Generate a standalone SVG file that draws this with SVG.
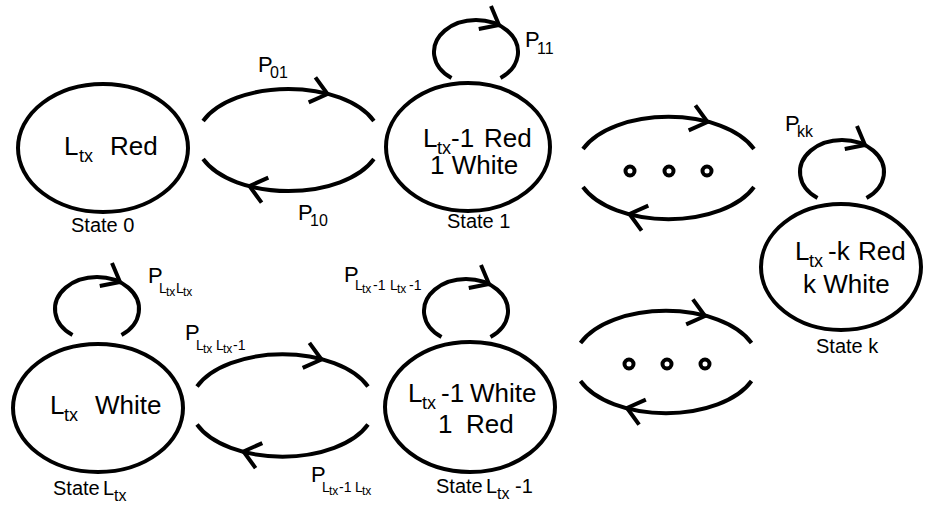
<svg xmlns="http://www.w3.org/2000/svg" xmlns:xlink="http://www.w3.org/1999/xlink" width="925" height="506" viewBox="0 0 925 506">
<style>
.st{fill:none;stroke:#000;stroke-width:4}
.dot{fill:none;stroke:#000;stroke-width:4}
text{font-family:"Liberation Sans",Arial,sans-serif;fill:#000}
.nt{font-size:26px}
.ns{font-size:18px}
.sl{font-size:20px}
.sls{font-size:16px}
.p{font-size:22px}
.ps{font-size:16px}
.pl{font-size:14px}
.pt{font-size:12px}
</style>
<defs>
<path id="chev" d="M-16,-13 L0,0 L-16,13" fill="none" stroke="#000" stroke-width="4"/>
</defs>
<rect width="925" height="506" fill="#fff"/>
<g id="connectors">
<path class="st" d="M203.1,121 A92,51 0 0 1 373.9,121"/>
<path class="st" d="M203.1,159 A92,51 0 0 0 373.9,159"/>
<use xlink:href="#chev" transform="translate(327.5,94) rotate(15)"/>
<use xlink:href="#chev" transform="translate(249.5,186) rotate(195)"/>
<path class="st" d="M583,149 A92,51 0 0 1 754,149"/>
<path class="st" d="M583,187 A92,51 0 0 0 754,187"/>
<use xlink:href="#chev" transform="translate(707.5,122) rotate(15)"/>
<use xlink:href="#chev" transform="translate(629.5,214) rotate(195)"/>
<path class="st" d="M197,386.5 A92,51 0 0 1 368,386.5"/>
<path class="st" d="M197,424.5 A92,51 0 0 0 368,424.5"/>
<use xlink:href="#chev" transform="translate(321.5,359.5) rotate(15)"/>
<use xlink:href="#chev" transform="translate(243.5,451.5) rotate(195)"/>
<path class="st" d="M580.5,343 A92,51 0 0 1 751.5,343"/>
<path class="st" d="M580.5,381 A92,51 0 0 0 751.5,381"/>
<use xlink:href="#chev" transform="translate(705,316) rotate(15)"/>
<use xlink:href="#chev" transform="translate(627,408) rotate(195)"/>
<path class="st" d="M451.5,78 A42,32 0 1 1 500.5,78"/>
<use xlink:href="#chev" transform="translate(499,25) rotate(28)"/>
<path class="st" d="M72.5,335 A42,32 0 1 1 121.5,335"/>
<use xlink:href="#chev" transform="translate(120,282) rotate(28)"/>
<path class="st" d="M441.5,337 A42,32 0 1 1 490.5,337"/>
<use xlink:href="#chev" transform="translate(489,284) rotate(28)"/>
<path class="st" d="M817.5,198 A42,32 0 1 1 866.5,198"/>
<use xlink:href="#chev" transform="translate(865,145) rotate(28)"/>
<circle class="dot" cx="630" cy="171" r="4.5"/>
<circle class="dot" cx="669" cy="171" r="4.5"/>
<circle class="dot" cx="707" cy="171" r="4.5"/>
<circle class="dot" cx="629" cy="364" r="4.5"/>
<circle class="dot" cx="667" cy="364" r="4.5"/>
<circle class="dot" cx="705" cy="364" r="4.5"/>
<text class="p" x="258" y="72">P<tspan class="ps" x="270" y="78">01</tspan></text>
<text class="p" x="298" y="220">P<tspan class="ps" x="310" y="226">10</tspan></text>
<text class="p" x="525" y="47">P<tspan class="ps" x="537" y="54">11</tspan></text>
<text class="p" x="785" y="131">P<tspan class="ps" x="797" y="137">kk</tspan></text>
<text class="p" x="148" y="283">P<tspan class="pl" x="159" y="293">L</tspan><tspan class="pt" x="166" y="296">tx</tspan><tspan class="pl" x="176" y="293">L</tspan><tspan class="pt" x="183" y="296">tx</tspan></text>
<text class="p" x="185" y="340">P<tspan class="pl" x="196" y="350">L</tspan><tspan class="pt" x="203" y="353">tx</tspan><tspan class="pl" x="216" y="350">L</tspan><tspan class="pt" x="223" y="353">tx</tspan><tspan class="pl" x="233" y="350">-1</tspan></text>
<text class="p" x="311" y="482">P<tspan class="pl" x="322" y="492">L</tspan><tspan class="pt" x="329" y="495">tx</tspan><tspan class="pl" x="339" y="492">-1</tspan><tspan class="pl" x="355" y="492">L</tspan><tspan class="pt" x="362" y="495">tx</tspan></text>
<text class="p" x="344" y="282">P<tspan class="pl" x="355" y="290">L</tspan><tspan class="pt" x="362" y="293">tx</tspan><tspan class="pl" x="373" y="290">-1</tspan><tspan class="pl" x="390" y="290">L</tspan><tspan class="pt" x="397" y="293">tx</tspan><tspan class="pl" x="409" y="290">-1</tspan></text>
</g>
<g id="state0">
<ellipse class="st" cx="103" cy="148" rx="85" ry="64"/>
<text class="nt" x="64" y="155">L<tspan class="ns" x="79" y="162">tx</tspan><tspan x="110" y="155">Red</tspan></text>
<text class="sl" x="71" y="232">State 0</text>
</g>
<g id="state1">
<ellipse class="st" cx="468" cy="147" rx="82" ry="64"/>
<text class="nt" x="423" y="147">L<tspan class="ns" x="437" y="154">tx</tspan><tspan x="451" y="147">-1</tspan><tspan x="484" y="147">Red</tspan></text>
<text class="nt" x="430" y="174">1 White</text>
<text class="sl" x="447" y="228">State 1</text>
</g>
<g id="statek">
<ellipse class="st" cx="841" cy="267" rx="80" ry="63"/>
<text class="nt" x="795" y="260">L<tspan class="ns" x="809" y="267">tx</tspan><tspan x="828" y="260">-k</tspan><tspan x="858" y="260">Red</tspan></text>
<text class="nt" x="803" y="293">k White</text>
<text class="sl" x="816" y="353">State k</text>
</g>
<g id="stateLtx">
<ellipse class="st" cx="98" cy="408" rx="85" ry="64"/>
<text class="nt" x="50" y="414">L<tspan class="ns" x="64" y="421">tx</tspan><tspan x="95" y="414">White</tspan></text>
<text class="sl" x="53" y="495">State<tspan x="103" y="495">L</tspan><tspan class="sls" x="114" y="501">tx</tspan></text>
</g>
<g id="stateLtx-1">
<ellipse class="st" cx="470" cy="407" rx="85" ry="65"/>
<text class="nt" x="408" y="402">L<tspan class="ns" x="422" y="409">tx</tspan><tspan x="441" y="402">-1</tspan><tspan x="470" y="402">White</tspan></text>
<text class="nt" x="438" y="433">1<tspan x="466" y="433">Red</tspan></text>
<text class="sl" x="436" y="493">State<tspan x="486" y="493">L</tspan><tspan class="sls" x="497" y="499">tx</tspan><tspan x="515" y="493">-1</tspan></text>
</g>
</svg>
